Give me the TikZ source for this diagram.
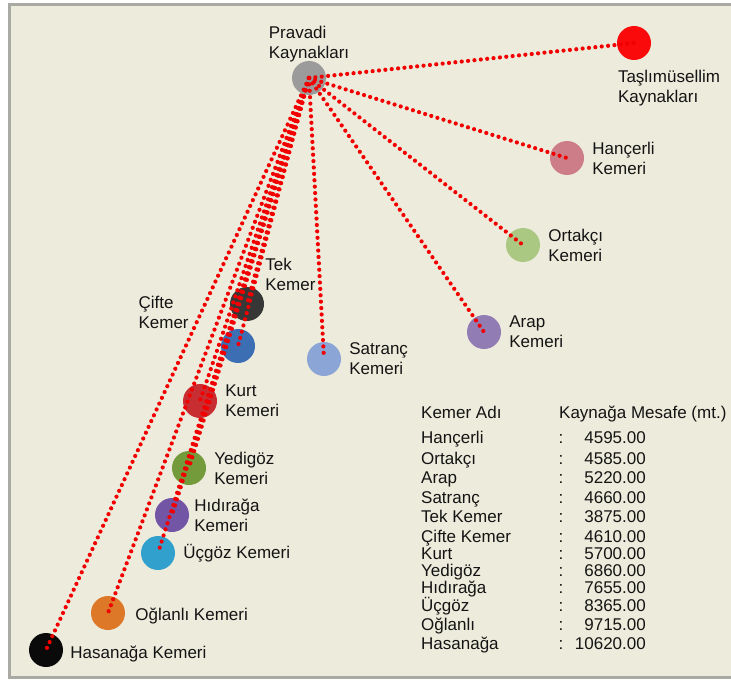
\documentclass[tikz,border=0pt]{standalone}
\usepackage{fontspec}
\setmainfont{Liberation Sans}
\usetikzlibrary{positioning}

\definecolor{paper}{RGB}{237,235,219}
\definecolor{framegray}{RGB}{170,170,165}
\definecolor{ink}{RGB}{20,20,20}
\definecolor{cprav}{RGB}{155,155,155}
\definecolor{ctasl}{RGB}{250,10,10}
\definecolor{chanc}{RGB}{205,125,135}
\definecolor{corta}{RGB}{170,200,130}
\definecolor{carap}{RGB}{145,125,180}
\definecolor{csatr}{RGB}{140,165,215}
\definecolor{ctek}{RGB}{55,55,55}
\definecolor{ccift}{RGB}{60,110,180}
\definecolor{ckurt}{RGB}{200,45,50}
\definecolor{cyedi}{RGB}{115,155,60}
\definecolor{chidi}{RGB}{115,85,165}
\definecolor{cucgo}{RGB}{50,160,205}
\definecolor{cogla}{RGB}{220,120,40}
\definecolor{chasa}{RGB}{10,10,10}

\begin{document}
\begin{tikzpicture}[x=1pt,y=-1pt,
  stn/.style={circle,minimum size=34pt,inner sep=0pt},
  lbl/.style={align=left,inner sep=1pt,text=ink,font=\fontsize{17}{20}\selectfont},
  pipe/.style={red!95!black,line width=4.2pt,line cap=round,dash pattern=on 0pt off 6.4pt}]
  \useasboundingbox (0,0) rectangle (731,682);
  \clip (0,0) rectangle (731,682);
  \fill[white] (0,0) rectangle (731,682);
  \draw[framegray,line width=3pt,fill=paper] (9.5,4.5) rectangle (760,677.5);

  \node[stn,fill=cprav] (prav) at (309,78) {};
  \node[stn,fill=ctasl] (tasl) at (634,43) {};
  \node[stn,fill=chanc] (hanc) at (567,158) {};
  \node[stn,fill=corta] (orta) at (523,245) {};
  \node[stn,fill=carap] (arap) at (484,332) {};
  \node[stn,fill=csatr] (satr) at (324,359) {};
  \node[stn,fill=ctek] (tek) at (247,304) {};
  \node[stn,fill=ccift] (cift) at (238,346) {};
  \node[stn,fill=ckurt] (kurt) at (200,401) {};
  \node[stn,fill=cyedi] (yedi) at (189,468) {};
  \node[stn,fill=chidi] (hidi) at (172,515) {};
  \node[stn,fill=cucgo] (ucgo) at (158,553) {};
  \node[stn,fill=cogla] (ogla) at (108,613) {};
  \node[stn,fill=chasa] (hasa) at (46,650) {};

  \foreach \k in {tasl,hanc,orta,arap,satr,tek,cift,kurt,yedi,hidi,ucgo,ogla,hasa}
    \draw[pipe] (prav.center) -- (\k.center);

  \node[lbl,above=-2pt of prav] (pravL) {Pravadi\\Kaynakları};
  \node[lbl,below=26pt of tasl.west,anchor=north west] (taslL) {Taşlımüsellim\\Kaynakları};
  \node[lbl,right=7pt of hanc] (hancL) {Hançerli\\Kemeri};
  \node[lbl,right=7pt of orta] (ortaL) {Ortakçı\\Kemeri};
  \node[lbl,right=7pt of arap] (arapL) {Arap\\Kemeri};
  \node[lbl,right=7pt of satr] (satrL) {Satranç\\Kemeri};
  \node[lbl,above right=0pt and 5pt of tek] (tekL) {Tek\\Kemer};
  \node[lbl,above left=4pt and 36pt of cift] (ciftL) {Çifte\\Kemer};
  \node[lbl,right=7pt of kurt] (kurtL) {Kurt\\Kemeri};
  \node[lbl,right=7pt of yedi] (yediL) {Yedigöz\\Kemeri};
  \node[lbl,right=4pt of hidi] (hidiL) {Hıdırağa\\Kemeri};
  \node[lbl,right=7pt of ucgo] (ucgoL) {Üçgöz Kemeri};
  \node[lbl,right=9pt of ogla,yshift=-3pt] (oglaL) {Oğlanlı Kemeri};
  \node[lbl,right=6pt of hasa,yshift=-4pt] (hasaL) {Hasanağa Kemeri};

  \node[lbl,anchor=base west] (head1) at (420,418) {Kemer Adı};
  \node[lbl,anchor=base west] (head2) at (558,418) {Kaynağa Mesafe (mt.)};
  \foreach \kname/\dist/\yb [count=\i] in {Hançerli/4595.00/443, Ortakçı/4585.00/464,
      Arap/5220.00/483, Satranç/4660.00/503, Tek Kemer/3875.00/522, Çifte Kemer/4610.00/542,
      Kurt/5700.00/559, Yedigöz/6860.00/576, Hıdırağa/7655.00/593, Üçgöz/8365.00/611,
      Oğlanlı/9715.00/630, Hasanağa/10620.00/649}{
    \node[lbl,anchor=base west] (kname\i) at (420,\yb) {\kname};
    \node[lbl,anchor=base] (kcol\i) at (561,\yb) {:};
    \node[lbl,anchor=base east] (kdist\i) at (647,\yb) {\dist};
  }
\end{tikzpicture}
\end{document}
